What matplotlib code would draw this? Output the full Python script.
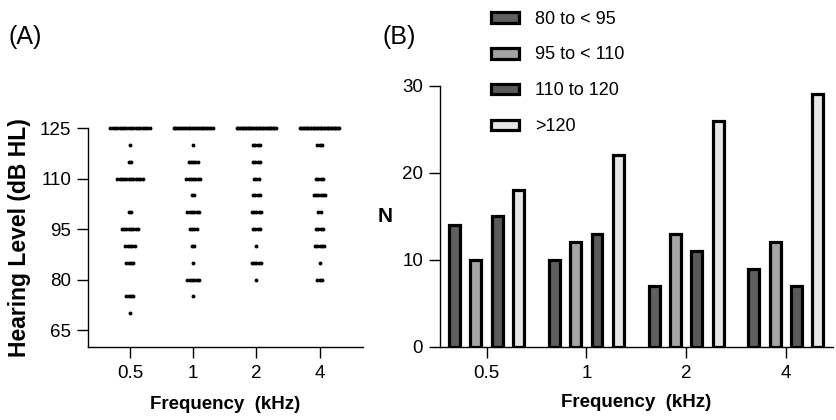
import numpy as np
import matplotlib.pyplot as plt

plt.rcParams['font.family'] = ['Liberation Sans', 'DejaVu Sans']

freqs = ['0.5', '1', '2', '4']

# Panel A: number of ears at each hearing level (dB HL), per frequency
levels = [125, 120, 115, 110, 105, 100, 95, 90, 85, 80, 75, 70]
counts_05 = [18, 1, 2, 12, 0, 2, 8, 5, 4, 0, 4, 1]
counts_1 = [22, 1, 5, 7, 2, 6, 4, 2, 1, 6, 1, 0]
counts_2 = [26, 4, 4, 3, 4, 5, 4, 1, 5, 1, 0, 0]
counts_4 = [29, 3, 0, 4, 6, 2, 4, 5, 1, 3, 0, 0]

# Panel B: N per hearing level group
groups = ['80 to < 95', '95 to < 110', '110 to 120', '>120']
n_80_95 = [14, 10, 7, 9]
n_95_110 = [10, 12, 13, 12]
n_110_120 = [15, 13, 11, 7]
n_over_120 = [18, 22, 26, 29]
bar_colors = ['#5f5f5f', '#a3a3a3', '#5a5a5a', '#e6e6e6']

fig = plt.figure(figsize=(8.36, 4.2), dpi=100)

# ---- (A) column scatter ----
axA = fig.add_axes([0.105, 0.174, 0.329, 0.521])
step = 0.0365
max_span = 0.62
for i, counts in enumerate([counts_05, counts_1, counts_2, counts_4]):
    for lev, n in zip(levels, counts):
        if n == 0:
            continue
        s = step if n == 1 else min(step, max_span / (n - 1))
        xs = i + (np.arange(n) - (n - 1) / 2) * s
        axA.plot(xs, [lev] * n, 'o', color='black', ms=2.8, mew=0, clip_on=False)

axA.set_xlim(-0.667, 3.683)
axA.set_ylim(60, 125)
axA.set_yticks([65, 80, 95, 110, 125])
axA.set_xticks(range(4))
axA.set_xticklabels(freqs)
axA.set_ylabel('Hearing Level (dB HL)', fontsize=16.5, fontweight='bold', labelpad=6)
axA.set_xlabel('Frequency  (kHz)', fontsize=13.5, fontweight='bold', labelpad=10)

# ---- (B) grouped bars ----
axB = fig.add_axes([0.526, 0.174, 0.470, 0.622])
x = np.arange(len(freqs))
width = 0.11
pitch = 0.214
for k, (vals, col, lab) in enumerate(zip([n_80_95, n_95_110, n_110_120, n_over_120],
                                         bar_colors, groups)):
    axB.bar(x + (k - 1.5) * pitch, vals, width=width, color=col,
            edgecolor='black', linewidth=2.3, label=lab, zorder=2)

axB.set_xlim(-0.47, 3.47)
axB.set_ylim(0, 30)
axB.set_yticks([0, 10, 20, 30])
axB.set_xticks(x)
axB.set_xticklabels(freqs)
axB.set_ylabel('N', fontsize=15, fontweight='bold', rotation=0, labelpad=7,
               va='center', ha='right')
axB.set_xlabel('Frequency  (kHz)', fontsize=13.5, fontweight='bold', labelpad=9)

axB.legend(loc='upper left', bbox_to_anchor=(0.587, 0.975), bbox_transform=fig.transFigure,
           frameon=False, fontsize=13, borderpad=0, borderaxespad=0,
           labelspacing=1.05, handlelength=1.55, handleheight=0.55, handletextpad=0.9)

for ax in (axA, axB):
    for side in ('top', 'right'):
        ax.spines[side].set_visible(False)
    for side in ('left', 'bottom'):
        ax.spines[side].set_linewidth(1.0)
    ax.tick_params(direction='out', length=8, width=1.0, labelsize=13.5, pad=4)
    ax.tick_params(axis='x', pad=5)

fig.text(8 / 836, 1 - 37 / 420, '(A)', fontsize=18, va='center', ha='left')
fig.text(383 / 836, 1 - 37 / 420, '(B)', fontsize=18, va='center', ha='left')

fig.savefig('out.png', dpi=100)
